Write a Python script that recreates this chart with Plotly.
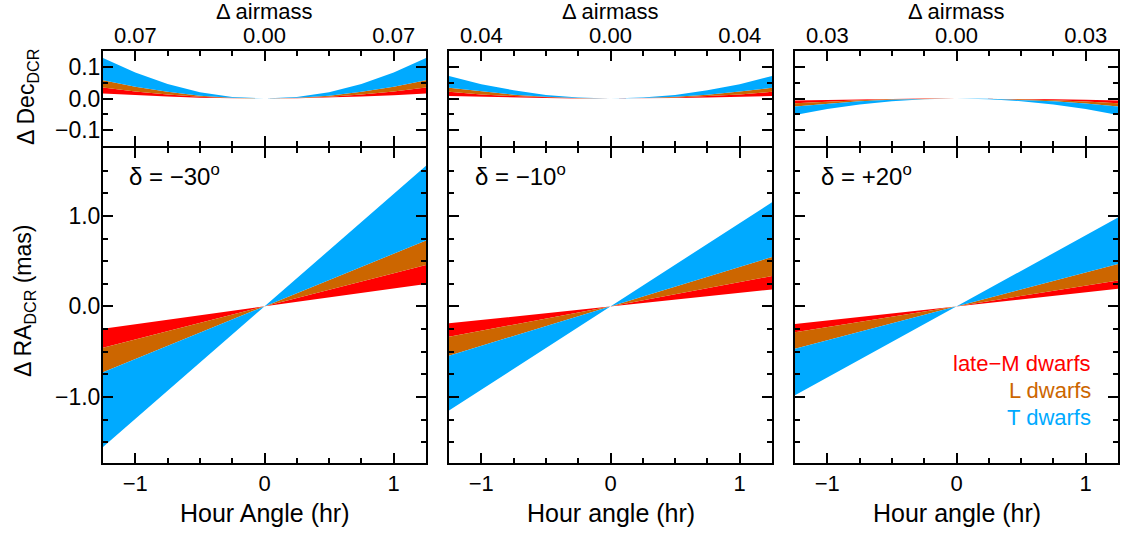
import plotly.graph_objects as go

# ---------------- data ----------------
ha_dec = [-1.25, -1.0, -0.75, -0.5, -0.25, 0.0, 0.25, 0.5, 0.75, 1.0, 1.25]
ha_ra = [-1.25, 0.0, 1.25]

declinations = ["δ = −30<sup>o</sup>", "δ = −10<sup>o</sup>", "δ = +20<sup>o</sup>"]
airmass_ticks = [["0.07", "0.00", "0.07"], ["0.04", "0.00", "0.04"], ["0.03", "0.00", "0.03"]]
xtitles = ["Hour Angle (hr)", "Hour angle (hr)", "Hour angle (hr)"]
class_names = ["late−M dwarfs", "L dwarfs", "T dwarfs"]

# Delta Dec boundaries (b0 inner edge of late-M, b1 M/L, b2 L/T, b3 outer edge of T)
dec_m30_b0 = [0.016, 0.010, 0.006, 0.0026, 0.0006, 0.0, 0.0006, 0.0026, 0.006, 0.010, 0.016]
dec_m30_b1 = [0.035, 0.022, 0.013, 0.0056, 0.0014, 0.0, 0.0014, 0.0056, 0.013, 0.022, 0.035]
dec_m30_b2 = [0.058, 0.037, 0.021, 0.009, 0.002, 0.0, 0.002, 0.009, 0.021, 0.037, 0.058]
dec_m30_b3 = [0.128, 0.082, 0.046, 0.020, 0.005, 0.0, 0.005, 0.020, 0.046, 0.082, 0.128]

dec_m10_b0 = [0.008, 0.005, 0.0029, 0.0013, 0.0003, 0.0, 0.0003, 0.0013, 0.0029, 0.005, 0.008]
dec_m10_b1 = [0.021, 0.013, 0.0076, 0.0034, 0.0008, 0.0, 0.0008, 0.0034, 0.0076, 0.013, 0.021]
dec_m10_b2 = [0.034, 0.022, 0.012, 0.0054, 0.0014, 0.0, 0.0014, 0.0054, 0.012, 0.022, 0.034]
dec_m10_b3 = [0.071, 0.045, 0.026, 0.011, 0.003, 0.0, 0.003, 0.011, 0.026, 0.045, 0.071]

dec_p20_b0 = [-0.006, -0.004, -0.002, -0.001, -0.0002, 0.0, -0.0002, -0.001, -0.002, -0.004, -0.006]
dec_p20_b1 = [-0.015, -0.0096, -0.0054, -0.0024, -0.0006, 0.0, -0.0006, -0.0024, -0.0054, -0.0096, -0.015]
dec_p20_b2 = [-0.025, -0.016, -0.009, -0.004, -0.001, 0.0, -0.001, -0.004, -0.009, -0.016, -0.025]
dec_p20_b3 = [-0.052, -0.033, -0.019, -0.0083, -0.002, 0.0, -0.002, -0.0083, -0.019, -0.033, -0.052]

# Delta RA boundaries (mas)
ra_m30_b0 = [-0.248, 0.0, 0.248]
ra_m30_b1 = [-0.457, 0.0, 0.457]
ra_m30_b2 = [-0.728, 0.0, 0.728]
ra_m30_b3 = [-1.553, 0.0, 1.553]

ra_m10_b0 = [-0.187, 0.0, 0.187]
ra_m10_b1 = [-0.335, 0.0, 0.335]
ra_m10_b2 = [-0.545, 0.0, 0.545]
ra_m10_b3 = [-1.150, 0.0, 1.150]

ra_p20_b0 = [-0.195, 0.0, 0.195]
ra_p20_b1 = [-0.286, 0.0, 0.286]
ra_p20_b2 = [-0.468, 0.0, 0.468]
ra_p20_b3 = [-0.981, 0.0, 0.981]

dec_sets = [
    [dec_m30_b0, dec_m30_b1, dec_m30_b2, dec_m30_b3],
    [dec_m10_b0, dec_m10_b1, dec_m10_b2, dec_m10_b3],
    [dec_p20_b0, dec_p20_b1, dec_p20_b2, dec_p20_b3],
]
ra_sets = [
    [ra_m30_b0, ra_m30_b1, ra_m30_b2, ra_m30_b3],
    [ra_m10_b0, ra_m10_b1, ra_m10_b2, ra_m10_b3],
    [ra_p20_b0, ra_p20_b1, ra_p20_b2, ra_p20_b3],
]

# ---------------- style ----------------
colors = ["#FF0000", "#CC6600", "#00AAFF"]
FONT = "Liberation Sans, Arial, Helvetica, sans-serif"
W, H = 1122, 533
col_px = [(103, 426), (449, 772), (795, 1118)]
top_px = (51, 146)
bot_px = (148, 463)


def px_x(p):
    return p / W


def px_y(p):
    return 1 - p / H


fig = go.Figure()

axis_common = dict(
    showline=True, linewidth=2, linecolor="black", mirror="ticks",
    ticks="inside", ticklen=10, tickwidth=2, tickcolor="black",
    showgrid=False, zeroline=False,
    tickfont=dict(family=FONT, size=22, color="black"),
)

layout = dict(
    width=W, height=H, margin=dict(l=0, r=0, t=0, b=0),
    paper_bgcolor="white", plot_bgcolor="white", showlegend=False,
    font=dict(family=FONT, color="black"),
)

annotations = []
for c in range(3):
    top_idx = 2 * c + 1
    bot_idx = 2 * c + 2
    xd = [px_x(col_px[c][0]), px_x(col_px[c][1])]

    def add_bands(xs, bounds, xa, ya):
        fig.add_trace(go.Scatter(x=xs, y=bounds[0], mode="lines", line=dict(width=0, color=colors[0]),
                                 xaxis=xa, yaxis=ya, hoverinfo="skip"))
        for k in range(3):
            fig.add_trace(go.Scatter(x=xs, y=bounds[k + 1], mode="lines", fill="tonexty",
                                     fillcolor=colors[k], line=dict(width=0, color=colors[k]),
                                     xaxis=xa, yaxis=ya, hoverinfo="skip"))

    add_bands(ha_dec, dec_sets[c], f"x{top_idx}", f"y{top_idx}")
    add_bands(ha_ra, ra_sets[c], f"x{bot_idx}", f"y{bot_idx}")

    xminor = dict(ticks="inside", ticklen=5, tickwidth=2, tickcolor="black",
                  tickmode="array", tickvals=[-1.25, -0.75, -0.5, -0.25, 0.25, 0.5, 0.75, 1.25])
    # top panel axes
    layout[f"xaxis{top_idx}"] = dict(
        axis_common, domain=xd, range=[-1.25, 1.25], side="top", anchor=f"y{top_idx}",
        tickmode="array", tickvals=[-1, 0, 1], ticktext=airmass_ticks[c], minor=xminor,
        ticklabelstandoff=-3,
    )
    layout[f"yaxis{top_idx}"] = dict(
        axis_common, domain=[px_y(top_px[1]), px_y(top_px[0])], range=[-0.15, 0.15],
        anchor=f"x{top_idx}", tickmode="array", tickvals=[-0.1, 0.0, 0.1], tickformat=".1f",
        showticklabels=(c == 0), ticklabelstandoff=-4,
        tickfont=dict(family=FONT, size=23, color="black"),
        minor=dict(ticks="inside", ticklen=5, tickwidth=2, tickcolor="black",
                   tickmode="array", tickvals=[-0.15, -0.05, 0.05, 0.15]),
    )
    # bottom panel axes
    layout[f"xaxis{bot_idx}"] = dict(
        axis_common, domain=xd, range=[-1.25, 1.25], side="bottom", anchor=f"y{bot_idx}",
        tickmode="array", tickvals=[-1, 0, 1], minor=xminor,
    )
    layout[f"yaxis{bot_idx}"] = dict(
        axis_common, domain=[px_y(bot_px[1]), px_y(bot_px[0])], range=[-1.73, 1.75],
        anchor=f"x{bot_idx}", tickmode="array", tickvals=[-1.0, 0.0, 1.0], tickformat=".1f",
        showticklabels=(c == 0), ticklabelstandoff=-4,
        tickfont=dict(family=FONT, size=23, color="black"),
        minor=dict(ticks="inside", ticklen=5, tickwidth=2, tickcolor="black",
                   tickmode="array", tickvals=[-1.5, -1.25, -0.75, -0.5, -0.25,
                                               0.25, 0.5, 0.75, 1.25, 1.5]),
    )

    xc = (xd[0] + xd[1]) / 2
    annotations.append(dict(text="Δ airmass", x=xc, y=px_y(12), xref="paper", yref="paper",
                            showarrow=False, xanchor="center", yanchor="middle",
                            font=dict(family=FONT, size=22, color="black")))
    annotations.append(dict(text=xtitles[c], x=xc, y=px_y(513), xref="paper", yref="paper",
                            showarrow=False, xanchor="center", yanchor="middle",
                            font=dict(family=FONT, size=25, color="black")))
    annotations.append(dict(text=declinations[c], x=px_x(col_px[c][0] + 24), y=px_y(175),
                            xref="paper", yref="paper", showarrow=False,
                            xanchor="left", yanchor="middle",
                            font=dict(family=FONT, size=24, color="black")))

annotations.append(dict(text="Δ Dec<sub>DCR</sub>", x=px_x(27), y=px_y(97), xref="paper", yref="paper",
                        showarrow=False, textangle=-90, xanchor="center", yanchor="middle",
                        font=dict(family=FONT, size=23, color="black")))
annotations.append(dict(text="Δ RA<sub>DCR</sub> (mas)", x=px_x(24), y=px_y(301), xref="paper", yref="paper",
                        showarrow=False, textangle=-90, xanchor="center", yanchor="middle",
                        font=dict(family=FONT, size=23, color="black")))
for k, name in enumerate(class_names):
    annotations.append(dict(text=name, x=px_x(1093), y=px_y(363 + 27 * k), xref="paper", yref="paper",
                            showarrow=False, xanchor="right", yanchor="middle",
                            font=dict(family=FONT, size=22, color=colors[k])))

layout["annotations"] = annotations
fig.update_layout(**layout)
fig.write_html("out.html")
